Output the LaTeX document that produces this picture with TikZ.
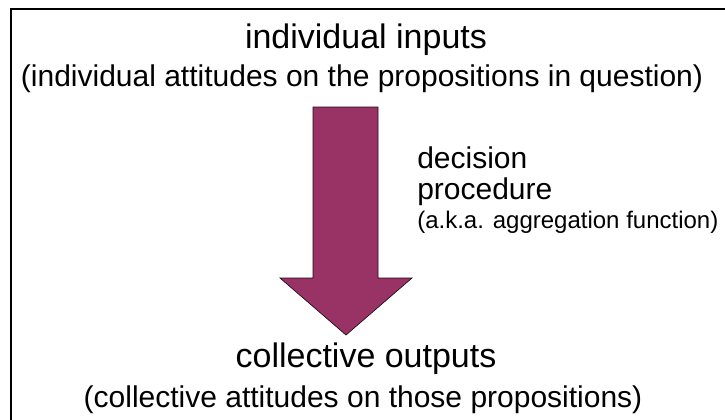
\documentclass[tikz,border=0pt]{standalone}
\usepackage{fontspec}
\setmainfont{Liberation Sans}
\definecolor{arrowfill}{HTML}{993366}
\begin{document}
\begin{tikzpicture}[x=0.75pt,y=-0.75pt,
  big/.style={inner sep=0pt,font=\fontsize{25.5}{30}\selectfont},
  mid/.style={inner sep=0pt,font=\fontsize{22.5}{27}\selectfont},
  small/.style={inner sep=0pt,font=\fontsize{18}{22}\selectfont},
  frame/.style={line width=1.5pt,line cap=rect},
  bigarrow/.style={fill=arrowfill,draw=black!80!arrowfill,line width=0.5pt,line join=miter}]
\useasboundingbox (0,0) rectangle (725,419);
\fill[white] (0,0) rectangle (725,419);
\draw[frame] (11,419) -- (11,9) -- (725,9);
\node[big,anchor=base] (in) at (366,48) {individual inputs};
\node[mid,anchor=base] (inatt) at (362,86) {(individual attitudes on the propositions in question)};
\node[mid,anchor=base west] (dec) at (417,168) {decision};
\node[mid,anchor=base west] (proc) at (417,199) {procedure};
\node[small,anchor=base west] (aka) at (417,228) {(a.k.a. aggregation function)};
\node[big,anchor=base] (out) at (366,367) {collective outputs};
\node[mid,anchor=base] (outatt) at (363,407) {(collective attitudes on those propositions)};
\draw[bigarrow] (313,107) -- (378,107) -- (378,278) -- (412,278) -- (346,335) -- (280,278) -- (313,278) -- cycle;
\end{tikzpicture}
\end{document}
